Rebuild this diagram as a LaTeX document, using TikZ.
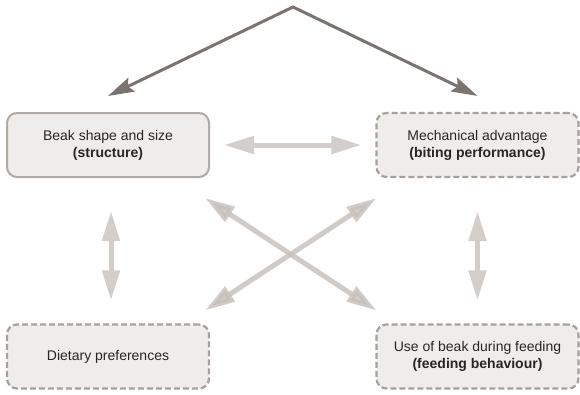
\documentclass[tikz,border=0pt]{standalone}
\usepackage{fontspec}
\setmainfont{Liberation Sans}
\usetikzlibrary{arrows.meta}
\definecolor{boxfill}{HTML}{EFEDEB}
\definecolor{boxline}{HTML}{B0A9A4}
\definecolor{dashline}{HTML}{A8A09B}
\definecolor{lightarrow}{HTML}{D3CECA}
\definecolor{crossarrow}{HTML}{C4BDB8}
\definecolor{darkarrow}{HTML}{7A7370}

\begin{document}
\begin{tikzpicture}[
		x=1pt, y=-1pt,
		main node/.style={rectangle,rounded corners=10pt,minimum width=202pt,minimum height=64pt,inner sep=0pt,
			fill=boxfill,draw=boxline,line width=2pt,align=center,text=black!85,font=\fontsize{14}{17}\selectfont},
		dash node/.style={main node,draw=dashline,line width=2.2pt,dash pattern=on 6pt off 3pt},
		light arrow/.style={draw=lightarrow,line width=5pt,{Triangle[length=30pt,width=17pt]}-{Triangle[length=30pt,width=17pt]}},
		cross arrow/.style={light arrow,draw=crossarrow,opacity=0.78},
		dark arrow/.style={draw=darkarrow,line width=3pt,{Stealth[length=26pt,width=15pt,inset=4pt]}-{Stealth[length=26pt,width=15pt,inset=4pt]}}]

	\useasboundingbox (0,0) rectangle (580,394);

	\node[main node] (beak) at (108,145) {Beak shape and size\\\textbf{(structure)}};
	\node[dash node] (mech) at (477.5,145) {Mechanical advantage\\\textbf{(biting performance)}};
	\node[dash node] (diet) at (108,356.5) {Dietary preferences};
	\node[dash node] (use) at (477.5,356.5) {Use of beak during feeding\\\textbf{(feeding behaviour)}};

	\coordinate (apex) at (293,7);

	\draw[dark arrow] ([yshift=16pt]beak.north) -- (apex) -- ([yshift=16pt]mech.north);

	\path
		(beak.east) edge[light arrow,shorten <=14pt,shorten >=14pt] (mech.west)
		([xshift=3pt]beak.south) edge[light arrow,shorten <=33pt,shorten >=23pt] ([xshift=3pt]diet.north)
		(mech.south) edge[light arrow,shorten <=33pt,shorten >=23pt] (use.north)
		([shift={(-5,20)}]beak.south east) edge[cross arrow] ([shift={(1,-13)}]use.north west)
		([shift={(1,20)}]mech.south west) edge[cross arrow] ([shift={(-5,-13)}]diet.north east)
	;
\end{tikzpicture}
\end{document}
